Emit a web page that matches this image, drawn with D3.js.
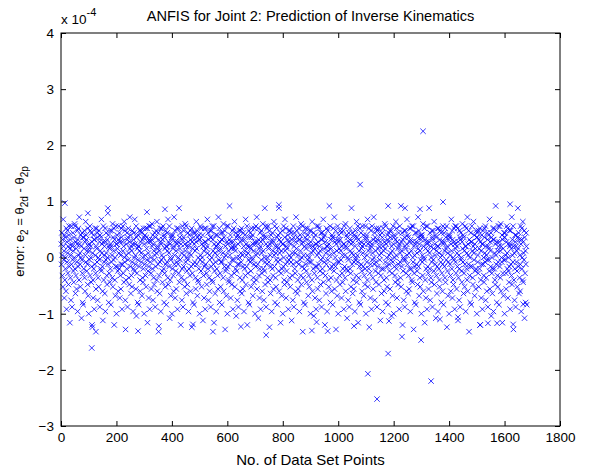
<!DOCTYPE html>
<html>
<head>
<meta charset="utf-8">
<script src="https://cdn.jsdelivr.net/npm/d3@7"></script>
<style>
  body { margin: 0; background: #fff; }
  text { font-family: "Liberation Sans", Arial, sans-serif; }
</style>
</head>
<body>
<svg></svg>
<script>
// error values in units of 1e-4, one character per data set point (1..1680)
// char k of the alphabet stands for -1.4 + 0.04*k
const codeAlphabet = "0123456789ABCDEFGHIJKLMNOPQRSTUVWXYZabcdefghijklmnopqrstuvwxyz";
const codeStart = -1.4, codeStep = 0.04;
const errCodes = [
  "fWkaRhMqeY cHjPiUZKmC gXlbSeNjnV d6hQaGnWfD eYkcTOiZoU nJgRdLXflB",
  "hVmaPrfbWM jZe8YkSFiE iUdlQgKapX jhTcWNmIeA fcYnRlZeOk Vg4bPHjUhC",
  "hWmaSLemdX kGiQZMlYgD jcUiTqbfVK 7gnPaXeJmB gYkbRNhZvW jFeSdOlUfE",
  "eXlaQoMiYc m5hPZIVnfA fVjdTKhnbU kHgRaLWmiC gWncSeOpZX lG3PafUkhD",
  "iYmbQNgrdV jJeRcMXlfB hUkZTqfaWL n9iSdFYjeE eVlcPKglbX kIhQZOUmiA",
  "fWjaRmMidY m6gTbHVnhC gXnZSLhoeU jGfQcNYkaD iVlbPpKedW k2hRcJXmgB",
  "fYmaTOhnZU jFiSdMWleE eXkcQqNgbV n8fPZIYjiA hUjdRKerWa lHgTcLXmfC",
  "gWmZSvOidY k5fQbGUnhD iVlaPMfocX nJeTZNYkgB eUjbRlKhaV m4gSdFWkiE",
  "fXkcQLgpdW lIiPZOUjhA hYnaTmMfZX j7eRcHVmgC gWmdSNeqbU kGhQaKYliD",
  "iVlZPnOhcW n6fTbJXjeB eUjaRLfrcY mFgSdMXkhE hXkbQoKiZV l3eTaIUngA",
  "fVncPOhwaW jHgRdNYleC gYmdSpMecU k9iTZGWjfD iWlZQKglbX mJhPaLVkeB",
  "hUjcRqNfaV n5eSbFYliE eXkdTMimZY jIfQcOWmgA fVnaPrLgbW m8hRdHUkeC",
  "gYlbSKhocU jGiTZNXnfD iWmZQnOedX l4fPaJVjgB hUkcRLgpaV nFeQbMYmiE",
  "eXjdTvKhbY k6gScIUlfA fVnZPNiqcW mHeTdOXjhC gYlaQlMfZX k7hRbGWniD",
  "ekUbSKgrdX lJiPaLWmhB hjYcRoNfZV n2gQaFUkeE imWdTOhmaY jIfRZMXleA",
  "glXbPpKecU k9iSdHVjfC fnVaQLgnbW mGeTcNYkhD hkUZSqOidX j5gRbJWmeB",
  "elYcPMfwaU nFhQdKVjiE imWbTrLgZV l3fPcIXnhA gjXdRNhlcY kHeSaOUlfC",
  "fnVaQoKedU j8iTZGYkgD hmUcSMfvbW kJgPaLXjiB elYZRpOiaX n6hQcFVmfE",
  "gkWdTKenbV jIfRZNUnhA ijXaPqMfcU m4gSdHWleC fnYbQLhrZW kGiTcOXmgD",
  "hlVdSmNeaY j7gRbJUkiB emUcPKgodX nFfQZMVjhE gkWaTlLibY l9eScIXnfA",
  "ijVZROhpaU mHgPdNWkeC fnXbQwMgcV k5hTZGYliD elYdSKfqaW jJiRbLUmgB",
  "hmUcPnOgZX n3eSaFVkfE gkWbTNirdV lIfQcMYjhA ijXaRoKeZY m6hPdHUngC",
  "fnVcSLgvbU kGeQZOXliD hlYdTpNfaW j8iRcJVmeB emUbPMhlZX kFgSaKWnfE",
  "gkVcQmOidY n4eTbIXjhA ijWaRKfqcU lHhPZNYmgC fnXdSnLebV m7gQaGUliD",
  "hkYZTOgodX jJiScMWneB emUbPrKfaW l2hRZFVkgE gnVcQNepbY jIfTdLUliA",
  "ikXaSlMhdU m5gPcHWjfC flWZROimbX nGeQaKYkhD ejYdTqLgcV k9iSZJUmhB",
  "hmUbPNfwaW lFgRcMXneE gnVcQoKeZX j6hSdIYkiA ikYaSLgnbU mHfTZOVleC",
  "flWdRrNhaX n3ePbGUjgD ejXcTMivdV kJhQaKWnfB hmUZPpOgbY l8iScFWkeE"
].join("").replace(/ /g, "");

// points in the tails, read one by one (index, error in 1e-4)
const tailIdx = [14, 97, 169, 310, 375, 735, 786, 1180, 1241, 1295, 1378, 1620, 1079, 1306,
  111, 112, 126, 278, 353, 476, 548, 649, 740, 905, 922, 962, 1057, 1183, 1230,
  1299, 1180, 1107, 1335, 1140, 1512, 1540, 1573, 1631, 1367, 1432, 1667];
const tailVal = [0.97, 0.79, 0.79, 0.81, 0.86, 0.88, 0.94, 0.92, 0.88, 0.86, 0.99, 0.95, 1.3, 2.25,
  -1.61, -1.2, -1.32, -1.31, -1.22, -1.19, -1.32, -1.23, -1.38, -1.3, -1.15, -1.31, -1.22, -1.13, -1.41,
  -1.47, -1.71, -2.07, -2.2, -2.52, -1.2, -1.17, -1.17, -1.19, -1.1, -1.06, -0.83];

const xTickValues = [0, 200, 400, 600, 800, 1000, 1200, 1400, 1600, 1800];
const yTickValues = [-3, -2, -1, 0, 1, 2, 3, 4];

const points = [];
for (let i = 0; i < errCodes.length; i++) {
  points.push([i + 1, codeStart + codeStep * codeAlphabet.indexOf(errCodes[i])]);
}
tailIdx.forEach((d, i) => points.push([d, tailVal[i]]));

let width = 592, height = 474;
let margin = {left: 61, right: 32, top: 33, bottom: 48};

let svg = d3.select("svg")
  .attr("width", width)
  .attr("height", height);

let x = d3.scaleLinear().domain([0, 1800]).range([margin.left, width - margin.right]);
let y = d3.scaleLinear().domain([-3, 4]).range([height - margin.bottom, margin.top]);

// markers
svg.append("g")
  .selectAll("path")
  .data(points)
  .enter()
  .append("path")
  .attr("transform", d => `translate(${x(d[0])},${y(d[1])})`)
  .attr("d", "M-2.7,-2.7L2.7,2.7M-2.7,2.7L2.7,-2.7")
  .attr("fill", "none")
  .attr("stroke", "#0000ff")
  .attr("stroke-width", 0.8);

// axes, ticks inward on all four sides
let ax = (g) => g.call(s => s.select(".domain").remove())
  .call(s => s.selectAll("line").attr("stroke", "#000"))
  .call(s => s.selectAll("text").attr("fill", "#000").style("font-size", "13.5px"));

svg.append("g")
  .attr("transform", `translate(0,${y(-3)})`)
  .call(d3.axisBottom(x).tickValues(xTickValues).tickSize(-5).tickPadding(6).tickFormat(d3.format("d")))
  .call(ax);
svg.append("g")
  .attr("transform", `translate(0,${y(4)})`)
  .call(d3.axisTop(x).tickValues(xTickValues).tickSize(-5).tickFormat(""))
  .call(ax);
svg.append("g")
  .attr("transform", `translate(${x(0)},0)`)
  .call(d3.axisLeft(y).tickValues(yTickValues).tickSize(-5).tickPadding(7).tickFormat(d3.format("d")))
  .call(ax);
svg.append("g")
  .attr("transform", `translate(${x(1800)},0)`)
  .call(d3.axisRight(y).tickValues(yTickValues).tickSize(-5).tickFormat(""))
  .call(ax);

svg.append("rect")
  .attr("x", x(0)).attr("y", y(4))
  .attr("width", x(1800) - x(0)).attr("height", y(-3) - y(4))
  .attr("fill", "none").attr("stroke", "#000").attr("stroke-width", 1);

// exponent
let ex = svg.append("text").attr("x", 61).attr("y", 24).style("font-size", "13.5px");
ex.append("tspan").text("x 10");
ex.append("tspan").attr("dy", -8).style("font-size", "11px").text("-4");

svg.append("text")
  .attr("x", (x(0) + x(1800)) / 2).attr("y", 21)
  .attr("text-anchor", "middle").style("font-size", "14.6px")
  .text("ANFIS for Joint 2: Prediction of Inverse Kinematics");

svg.append("text")
  .attr("x", (x(0) + x(1800)) / 2).attr("y", 465)
  .attr("text-anchor", "middle").style("font-size", "15px")
  .text("No. of Data Set Points");

let yl = svg.append("text")
  .attr("transform", `translate(24,${(y(4) + y(-3)) / 2 - 8}) rotate(-90)`)
  .attr("text-anchor", "middle").style("font-size", "13px");
yl.append("tspan").text("error: e");
yl.append("tspan").attr("dy", 4).style("font-size", "10px").text("2");
yl.append("tspan").attr("dy", -4).text(" = θ");
yl.append("tspan").attr("dy", 4).style("font-size", "10px").text("2d");
yl.append("tspan").attr("dy", -4).text(" - θ");
yl.append("tspan").attr("dy", 4).style("font-size", "10px").text("2p");
</script>
</body>
</html>
